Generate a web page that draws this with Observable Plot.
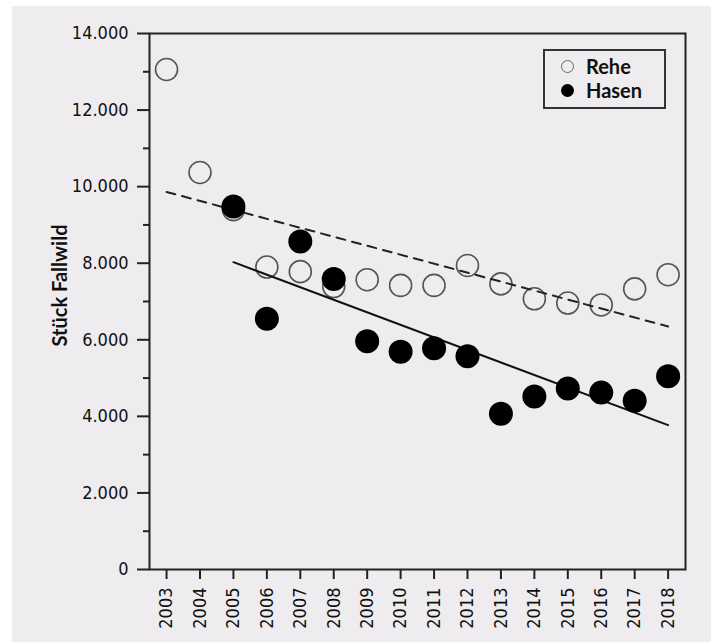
<!DOCTYPE html>
<html>
<head>
<meta charset="utf-8">
<script src="https://cdn.jsdelivr.net/npm/d3@7"></script>
<script src="https://cdn.jsdelivr.net/npm/@observablehq/plot@0.6"></script>
<style>
  body { margin: 0; background: #ffffff; }
  #wrap { position: relative; width: 711px; height: 642px; overflow: hidden; }
  #panel { position: absolute; left: 12px; top: 6px; right: 0; bottom: 0; background: #eeecef; }
  #chart { position: absolute; left: 0; top: 0; }
  #legend {
    position: absolute; left: 543px; top: 49px; width: 123px; height: 60px;
    box-sizing: border-box; border: 2px solid #333; background: #eeecef;
    font-family: Lato, "Open Sans", sans-serif; font-weight: bold; font-size: 20px; color: #111;
  }
  .item { position: absolute; left: 16px; display: flex; align-items: center; line-height: 24px; }
  .sym { width: 13px; height: 13px; border-radius: 50%; box-sizing: border-box; margin-right: 12px; }
</style>
</head>
<body>
<div id="wrap">
  <div id="panel"></div>
  <div id="chart"></div>
  <div id="legend">
    <div class="item" style="top:3px"><span class="sym" style="border:1.5px solid #666"></span><span>Rehe</span></div>
    <div class="item" style="top:27px"><span class="sym" style="background:#000"></span><span>Hasen</span></div>
  </div>
</div>
<script>
const years = [2003, 2004, 2005, 2006, 2007, 2008, 2009, 2010, 2011, 2012, 2013, 2014, 2015, 2016, 2017, 2018];
const reheYears = years;
const reheValues = [13060, 10370, 9400, 7900, 7780, 7390, 7570, 7420, 7420, 7940, 7460, 7070, 6960, 6910, 7330, 7700];
const hasenYears = [2005, 2006, 2007, 2008, 2009, 2010, 2011, 2012, 2013, 2014, 2015, 2016, 2017, 2018];
const hasenValues = [9480, 6550, 8570, 7590, 5960, 5690, 5780, 5570, 4070, 4520, 4730, 4620, 4410, 5050];
const yMajorTicks = [0, 2000, 4000, 6000, 8000, 10000, 12000, 14000];
const yMinorTicks = [1000, 3000, 5000, 7000, 9000, 11000, 13000];
const yTitle = "Stück Fallwild";

const rehe = reheYears.map((year, i) => ({year, value: reheValues[i]}));
const hasen = hasenYears.map((year, i) => ({year, value: hasenValues[i]}));

const de = d3.formatLocale({decimal: ",", thousands: ".", grouping: [3], currency: ["", " €"]});
const fmt = de.format(",");
const tickFont = "'Liberation Sans Narrow', 'Arial Narrow', 'DejaVu Sans Condensed', sans-serif";

const chart = Plot.plot({
  width: 711,
  height: 642,
  marginLeft: 149,
  marginRight: 26,
  marginTop: 33,
  marginBottom: 73,
  style: {
    background: "transparent",
    fontFamily: tickFont,
    fontSize: "18px",
    color: "#111"
  },
  x: {domain: [2002.49, 2018.52]},
  y: {domain: [0, 14000]},
  marks: [
    Plot.axisY({ticks: yMajorTicks, tickFormat: fmt, tickSize: 12, tickPadding: 9, strokeWidth: 2, stroke: "#222", fill: "#111", fontSize: 18, fontFamily: tickFont, label: null}),
    Plot.axisY({ticks: yMinorTicks, tickFormat: null, text: null, tickSize: 6, strokeWidth: 2, stroke: "#222", label: null}),
    Plot.axisX({ticks: years, tickFormat: d => String(d), tickRotate: -90, tickSize: 10, tickPadding: 8, strokeWidth: 2, stroke: "#222", fill: "#111", fontSize: 18, fontFamily: tickFont, label: null}),
    Plot.dot(rehe, {x: "year", y: "value", r: 11, stroke: "#555", strokeWidth: 1.6, fill: "none"}),
    Plot.linearRegressionY(rehe, {x: "year", y: "value", ci: 0, stroke: "#222", strokeWidth: 2, strokeDasharray: "9,7"}),
    Plot.linearRegressionY(hasen, {x: "year", y: "value", ci: 0, stroke: "#111", strokeWidth: 2}),
    Plot.dot(hasen, {x: "year", y: "value", r: 12, fill: "#000"}),
    Plot.frame({stroke: "#222", strokeWidth: 2}),
    Plot.text([yTitle], {frameAnchor: "left", textAnchor: "middle", rotate: -90, dx: -89, dy: -16, fontFamily: "Lato, 'Open Sans', sans-serif", fontWeight: "bold", fontSize: 20, fill: "#111"})
  ]
});
document.getElementById("chart").appendChild(chart);
</script>
</body>
</html>
